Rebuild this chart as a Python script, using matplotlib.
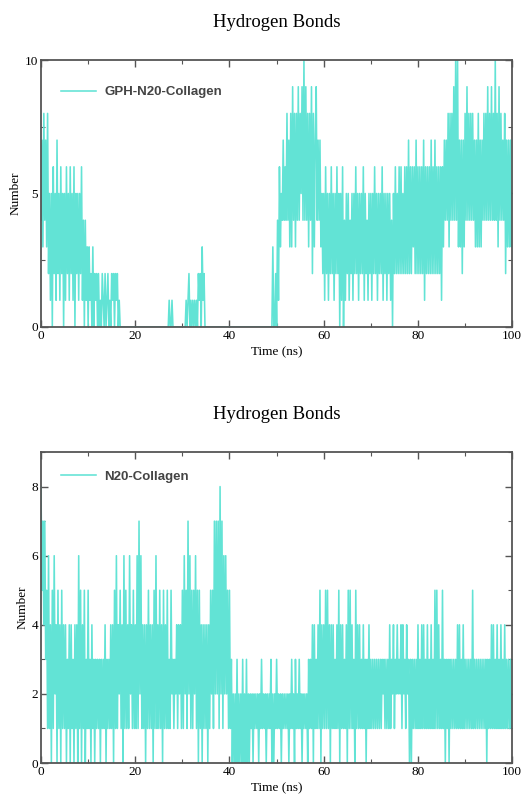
import numpy as np
import matplotlib
matplotlib.use("Agg")
import matplotlib.pyplot as plt
from matplotlib.ticker import MultipleLocator

# hydrogen bond counts, one value every 0.2 ns ('a' = 10)
dt = 0.2
gph_rows = [
    "4738473825" "1506251725" "1625051625" "1625160525" "1526140413",
    "0312030212" "0201021020" "1201021202" "1201000000" "0000000000",
    "0" * 35 + "01001" + "0" * 10,
    "0000" "101201010101" "021203120" + "0" * 25,
    "0" * 45 + "03002",
    "0416354746" "4847383948" "384948594a" "4948384928" "3794747352",
    "5162515262" "5152625051" "6041525142" "5152625152" "5261524152",
    "5152625152" "5261525152" "5140526252" "6262526262" "7262636272",
    "6262627162" "6262726272" "6262616374" "7483848494" "a4a3737273",
    "8494848484" "7373837374" "8484948494" "84a4839484" "7482737373",
    "5",
]
n20_rows = [
    "8574735161" "4051624051" "4051414031" "4041304140" "6150415031",
    "5130413031" "3130313140" "3131414051" "6142514061" "5141624151",
    "4161726141" "4041514140" "5161415140" "5141513152" "3132414241",
    "5162517261" "5152615051" "4041414041" "5251727271" "8271626251",
    "5130202030" "2020302030" "2021202121" "2021312120" "2121302021",
    "3121202121" "2120213120" "3121312021" "2120313140" "4131415041",
    "4151514041" "4131415041" "4131405151" "4130514141" "3141303141",
    "3131313131" "3132313131" "4132413242" "3241423142" "3030313131",
    "4131414131" "4131413151" "5141315130" "3130313131" "3141413141",
    "3131313151" "3131313131" "3130313141" "4131413141" "3141313131",
    "2",
]

gph = np.array([int(c, 16) for c in "".join(gph_rows)])
n20 = np.array([int(c, 16) for c in "".join(n20_rows)])
t_gph = np.arange(len(gph)) * dt
t_n20 = np.arange(len(n20)) * dt

col = "#62e3d5"
edge = "#555555"
serif = "Liberation Serif"

fig = plt.figure(figsize=(5.23, 7.94), dpi=100)
ax1 = fig.add_axes([0.0784, 0.5882, 0.901, 0.3362])
ax2 = fig.add_axes([0.0784, 0.0390, 0.901, 0.3917])


def style(ax, ymax, ymaj, ymin):
    ax.set_xlim(0, 100)
    ax.set_ylim(0, ymax)
    ax.xaxis.set_major_locator(MultipleLocator(20))
    ax.xaxis.set_minor_locator(MultipleLocator(10))
    ax.yaxis.set_major_locator(MultipleLocator(ymaj))
    ax.yaxis.set_minor_locator(MultipleLocator(ymin))
    ax.tick_params(which="both", direction="in", top=True, right=True,
                   color=edge, labelsize=9.5, pad=2)
    ax.tick_params(which="major", length=5, width=1)
    ax.tick_params(which="minor", length=3, width=0.8)
    for lab in ax.get_xticklabels() + ax.get_yticklabels():
        lab.set_family(serif)
    for s in ax.spines.values():
        s.set_color(edge)
        s.set_linewidth(1.3)
        s.set_zorder(5)
    ax.set_xlabel("Time (ns)", family=serif, fontsize=9.5, labelpad=3)
    ax.set_ylabel("Number", family=serif, fontsize=9.5, labelpad=2)
    ax.set_title("Hydrogen Bonds", family=serif, fontsize=13.5, pad=24)


ax1.plot(t_gph, gph, color=col, lw=1.15, label="GPH-N20-Collagen")
style(ax1, 10, 5, 2.5)

ax2.plot(t_n20, n20, color=col, lw=1.15, label="N20-Collagen")
style(ax2, 9, 2, 1)

for ax, ypos in ((ax1, 0.88), (ax2, 0.92)):
    leg = ax.legend(loc="center left", bbox_to_anchor=(0.032, ypos),
                    frameon=False, handlelength=2.65, handletextpad=0.6,
                    borderaxespad=0,
                    prop={"family": "Liberation Sans", "weight": "bold", "size": 9.5})
    for txt in leg.get_texts():
        txt.set_color("#444444")

fig.savefig("out.png", dpi=100)
